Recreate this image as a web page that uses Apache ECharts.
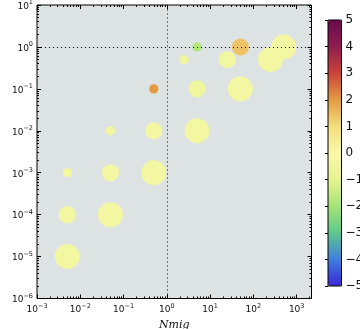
<!DOCTYPE html>
<html>
<head>
<meta charset="utf-8">
<script src="https://cdn.jsdelivr.net/npm/echarts@6/dist/echarts.min.js"></script>
<style>
  html, body { margin: 0; padding: 0; background: #ffffff; }
  #chart { width: 360px; height: 329px; }
</style>
</head>
<body>
<div id="chart"></div>
<script>
// Migration runs: Nmig against mig, coloured by a scalar, sized by level
const nmig = [0.005, 0.005, 0.005, 0.05, 0.05, 0.05, 0.5, 0.5, 0.5, 5, 5, 5, 50, 50, 500, 2.5, 25, 250];
const mig = [1e-5, 1e-4, 1e-3, 1e-4, 1e-3, 1e-2, 1e-3, 1e-2, 1e-1, 1e-2, 1e-1, 1, 1e-1, 1, 1, 0.5, 0.5, 0.5];
const sizeLevel = [3, 2, 1, 3, 2, 1, 3, 2, 1, 3, 2, 1, 3, 2, 3, 1, 2, 3];
const colourValue = [-0.3, -0.3, -0.3, -0.3, -0.3, -0.3, -0.3, -0.3, 2, -0.3, -0.5, -1.8, -0.3, 1.4, -0.3, -0.5, -0.3, -0.3];

// Axis ticks (exponents of ten) and colour-bar ticks
const xTickExps = [-3, -2, -1, 0, 1, 2, 3];
const yTickExps = [-6, -5, -4, -3, -2, -1, 0, 1];
const cbarTicks = [-5, -4, -3, -2, -1, 0, 1, 2, 3, 4, 5];

const X_MIN = 1e-3, X_MAX = 2200, Y_MIN = 1e-6, Y_MAX = 10;
const C_MIN = cbarTicks[0], C_MAX = cbarTicks[cbarTicks.length - 1];

const MINUS = '\u2212';
const FONT = 'DejaVu Sans';

function majors(exps) { return exps.map(e => Math.pow(10, e)); }
function minors(lo, hi) {
  const out = [];
  for (let e = Math.floor(Math.log10(lo)); e <= Math.ceil(Math.log10(hi)); e++) {
    for (let k = 2; k <= 9; k++) {
      const v = k * Math.pow(10, e);
      if (v > lo && v < hi) out.push(v);
    }
  }
  return out;
}

function powLabel(v) {
  const e = Math.round(Math.log10(v));
  return '{b|10}{s|' + String(e).replace('-', MINUS) + '}';
}
const powRich = {
  b: { fontSize: 9, fontFamily: FONT, color: '#111', lineHeight: 12, verticalAlign: 'bottom' },
  s: { fontSize: 6.5, fontFamily: FONT, color: '#111', lineHeight: 12, verticalAlign: 'top' }
};

const tickLine = { color: '#000', width: 1 };

function logAxis(opts) {
  const { pos, min, max, ticks, len, labels } = opts;
  return {
    type: 'log',
    logBase: 10,
    gridIndex: 0,
    position: pos,
    min: min,
    max: max,
    axisLine: { show: false },
    splitLine: { show: false },
    minorTick: { show: false },
    axisTick: { show: true, inside: true, length: len, lineStyle: tickLine, customValues: ticks },
    axisLabel: labels
      ? { show: true, customValues: ticks, formatter: powLabel, rich: powRich, margin: 4 }
      : { show: false },
    silent: true
  };
}

const xMaj = majors(xTickExps), yMaj = majors(yTickExps);
const xMin = minors(X_MIN, X_MAX), yMin = minors(Y_MIN, Y_MAX);

const nameStyle = { fontFamily: 'DejaVu Serif', fontStyle: 'italic', fontSize: 11, color: '#111' };

const xAxes = [
  Object.assign(logAxis({ pos: 'bottom', min: X_MIN, max: X_MAX, ticks: xMaj, len: 4, labels: true }), {
    name: 'Nmig', nameLocation: 'middle', nameGap: 14, nameTextStyle: nameStyle
  }),
  logAxis({ pos: 'bottom', min: X_MIN, max: X_MAX, ticks: xMin, len: 2 }),
  logAxis({ pos: 'top', min: X_MIN, max: X_MAX, ticks: xMaj, len: 4 }),
  logAxis({ pos: 'top', min: X_MIN, max: X_MAX, ticks: xMin, len: 2 }),
  { type: 'value', gridIndex: 1, min: 0, max: 1, show: false }
];
const yAxes = [
  Object.assign(logAxis({ pos: 'left', min: Y_MIN, max: Y_MAX, ticks: yMaj, len: 4, labels: true }), {
    name: 'mig', nameLocation: 'middle', nameGap: 28, nameRotate: 90, nameTextStyle: nameStyle
  }),
  logAxis({ pos: 'left', min: Y_MIN, max: Y_MAX, ticks: yMin, len: 2 }),
  logAxis({ pos: 'right', min: Y_MIN, max: Y_MAX, ticks: yMaj, len: 4 }),
  logAxis({ pos: 'right', min: Y_MIN, max: Y_MAX, ticks: yMin, len: 2 }),
  {
    type: 'value', gridIndex: 1, position: 'right', min: C_MIN, max: C_MAX, interval: 1,
    axisLine: { show: false },
    splitLine: { show: false },
    axisTick: { show: true, inside: true, length: 3, lineStyle: tickLine },
    axisLabel: {
      margin: 4, fontSize: 12, fontFamily: FONT, color: '#111',
      formatter: v => String(v).replace('-', MINUS)
    }
  }
];

const points = nmig.map((x, i) => [x, mig[i], colourValue[i], sizeLevel[i]]);

const option = {
  animation: false,
  backgroundColor: '#ffffff',
  grid: [
    { left: 37, top: 5, width: 274.5, height: 293.5, show: true, backgroundColor: '#dde3e3',
      borderColor: '#000', borderWidth: 1, outerBoundsMode: 'none', containLabel: false },
    { left: 328, top: 20, width: 13.5, height: 266, show: true, backgroundColor: 'transparent',
      borderColor: '#000', borderWidth: 1, z: 10, outerBoundsMode: 'none', containLabel: false }
  ],
  xAxis: xAxes,
  yAxis: yAxes,
  visualMap: {
    type: 'continuous',
    seriesIndex: 0,
    dimension: 2,
    min: C_MIN, max: C_MAX,
    left: 328, top: 20,
    itemWidth: 13.5, itemHeight: 266,
    padding: 0,
    calculable: false,
    hoverLink: false,
    realtime: false,
    text: null,
    showLabel: false,
    inRange: {
      color: ['#3b26d6', '#3f7fde', '#5cc98c', '#a6e276', '#e6f391', '#faf8a8',
              '#f3df7e', '#e39a42', '#c9433a', '#8e1e4e', '#680a4c']
    }
  },
  series: [
    {
      type: 'scatter',
      xAxisIndex: 0, yAxisIndex: 0,
      z: 3,
      data: points,
      symbolSize: d => 9.3 + 7.8 * (d[3] - 1),
      itemStyle: { opacity: 1 },
      emphasis: { disabled: true }
    },
    {
      type: 'scatter',
      xAxisIndex: 0, yAxisIndex: 0,
      z: 2,
      data: [],
      markLine: {
        silent: true,
        symbol: 'none',
        label: { show: false },
        lineStyle: { color: '#000', width: 1, type: [1, 3] },
        data: [{ xAxis: 1 }, { yAxis: 1 }]
      }
    }
  ]
};

const chart = echarts.init(document.getElementById('chart'), null, { renderer: 'canvas' });
chart.setOption(option);
</script>
</body>
</html>
